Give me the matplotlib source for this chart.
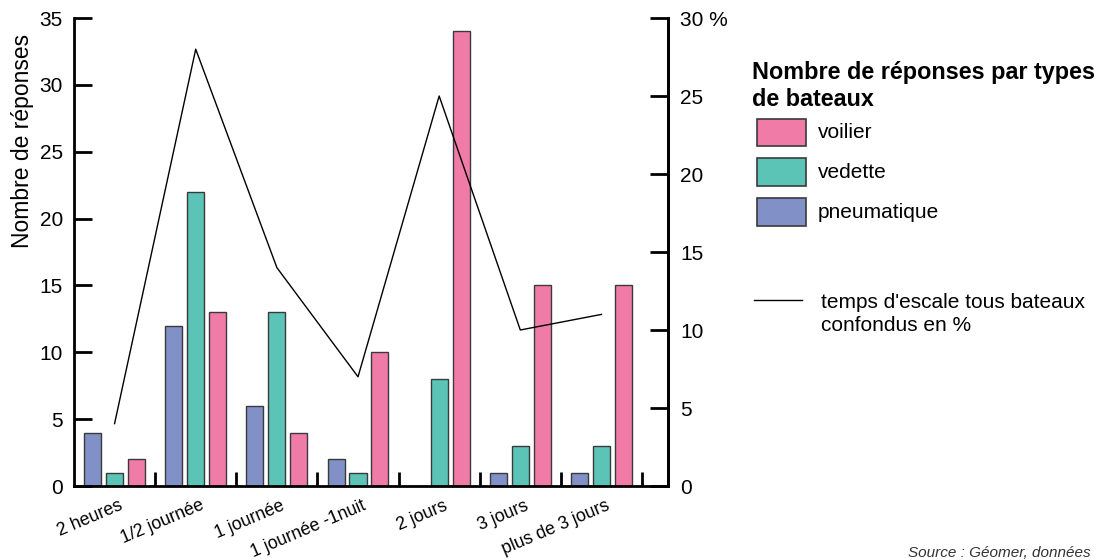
import matplotlib.pyplot as plt
import matplotlib.transforms as mtransforms
from matplotlib.patches import Rectangle
from matplotlib.lines import Line2D

plt.rcParams['font.family'] = ['Liberation Sans', 'DejaVu Sans']

categories = ["2 heures", "1/2 journée", "1 journée", "1 journée -1nuit",
              "2 jours", "3 jours", "plus de 3 jours"]
pneumatique = [4, 12, 6, 2, 0, 1, 1]
vedette = [1, 22, 13, 1, 8, 3, 3]
voilier = [2, 13, 4, 10, 34, 15, 15]
escale_pct = [4, 28, 14, 7, 25, 10, 11]

c_voilier = "#f07ba7"
c_vedette = "#5bc4b7"
c_pneu = "#8190c7"
edge = "#3a3a3a"

W, H = 1106, 560
fig = plt.figure(figsize=(W / 100, H / 100), dpi=100)
ax = fig.add_axes([74 / W, 1 - 486 / H, (668 - 74) / W, (486 - 18) / H])

x = list(range(len(categories)))
bw = 0.21
off = 0.27
ax.bar([i - off for i in x], pneumatique, bw, color=c_pneu, edgecolor=edge, linewidth=1)
ax.bar(x, vedette, bw, color=c_vedette, edgecolor=edge, linewidth=1)
ax.bar([i + off for i in x], voilier, bw, color=c_voilier, edgecolor=edge, linewidth=1)

ax.set_xlim(-0.5, 6.82)
ax.set_ylim(0, 35)
ax.set_yticks(range(0, 36, 5))
ax.set_ylabel("Nombre de réponses", fontsize=16.5)
ax.yaxis.set_label_coords(-0.068, 0.737)

ax.spines['top'].set_visible(False)
for s in ['left', 'bottom', 'right']:
    ax.spines[s].set_linewidth(2)
ax.tick_params(axis='y', direction='in', length=13, width=2, labelsize=15, pad=8)

# boundary ticks on x axis, labels near category centres
ax.set_xticks([i + 0.5 for i in x])
ax.set_xticklabels([])
ax.tick_params(axis='x', which='major', direction='in', length=10, width=2)
ax.set_xticks(x, minor=True)
ax.set_xticklabels(categories, minor=True, rotation=23, ha='right', va='top',
                   rotation_mode='anchor', fontsize=12.8)
ax.tick_params(axis='x', which='minor', length=0, pad=8)
shift = mtransforms.ScaledTranslation(0.04, 0, fig.dpi_scale_trans)
for lbl in ax.get_xticklabels(minor=True):
    lbl.set_transform(lbl.get_transform() + shift)

ax2 = ax.twinx()
ax2.plot(x, escale_pct, color="black", linewidth=1)
ax2.set_ylim(0, 30)
ax2.set_yticks(range(0, 31, 5))
ax2.set_yticklabels(["0", "5", "10", "15", "20", "25", "30 %"])
for s in ['top', 'left', 'bottom']:
    ax2.spines[s].set_visible(False)
ax2.spines['right'].set_linewidth(2)
ax2.tick_params(axis='y', direction='in', length=13, width=2, labelsize=15, pad=9)

# legend
fig.text(752 / W, 1 - 86 / H, "Nombre de réponses par types\nde bateaux",
         fontsize=16.8, fontweight='bold', va='center', linespacing=1.2)
items = [(c_voilier, "voilier", 132), (c_vedette, "vedette", 172), (c_pneu, "pneumatique", 212)]
for col, lab, yc in items:
    fig.patches.append(Rectangle((757 / W, 1 - (yc + 13.5) / H), 49 / W, 27 / H,
                                 facecolor=col, edgecolor=edge, linewidth=1.2,
                                 transform=fig.transFigure))
    fig.text(818 / W, 1 - yc / H, lab, fontsize=15, va='center')
fig.lines.append(Line2D([754 / W, 802 / W], [1 - 300 / H, 1 - 300 / H],
                        color="black", linewidth=1, transform=fig.transFigure))
fig.text(821 / W, 1 - 314 / H, "temps d'escale tous bateaux\nconfondus en %",
         fontsize=15, va='center', linespacing=1.3)

fig.text(908 / W, 1 - 553 / H, "Source : Géomer, données", fontsize=11,
         style='italic', va='center', color="#333333")

fig.savefig("out.png", dpi=100)
